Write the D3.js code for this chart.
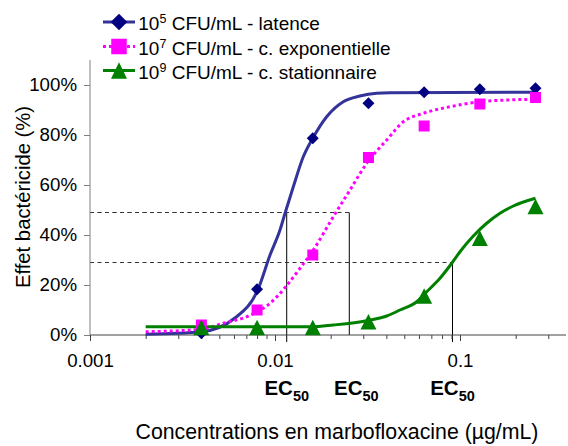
<!DOCTYPE html>
<html>
<head>
<meta charset="utf-8">
<script src="https://cdn.jsdelivr.net/npm/d3@7/dist/d3.min.js"></script>
<style>
  html, body { margin: 0; padding: 0; background: #fff; }
  svg { display: block; font-family: "Liberation Sans", Arial, sans-serif; }
</style>
</head>
<body>
<svg id="chart" width="568" height="446"></svg>
<script>
// ---------- data ----------
const concentrations = [0.004, 0.008, 0.016, 0.032, 0.064, 0.128, 0.256];
const latence        = [0.7, 18.3, 78.7, 92.7, 97.1, 98.3, 98.7];
const exponentielle  = [4, 10, 32, 71, 83.6, 92.4, 95];
const stationnaire   = [3, 3, 3, 5.3, 15.6, 38.7, 51.4];

// fitted curves
const fitLatenceConc  = [0.002, 0.004, 0.0061, 0.0081, 0.0094, 0.01064, 0.01133, 0.01256, 0.01422, 0.016, 0.01902, 0.02339, 0.02878, 0.03545, 0.04187, 0.256];
const fitLatenceVal   = [0.3, 1.3, 6.9, 18.3, 32, 42, 48.7, 59.3, 71.3, 78.7, 87.3, 93.3, 95.6, 96.7, 96.9, 97.1];
const fitExpoConc     = [0.002, 0.004, 0.00525, 0.00703, 0.0094, 0.01366, 0.0161, 0.02066, 0.02543, 0.03132, 0.04016, 0.0494, 0.0634, 0.0883, 0.1282, 0.1788, 0.256];
const fitExpoVal      = [1.3, 2.3, 4.7, 7.3, 12.7, 26.7, 34, 47.3, 58, 68.7, 78, 85.3, 88.7, 91.3, 93.3, 94, 94.3];
const fitStatConc     = [0.002, 0.01585, 0.02066, 0.03132, 0.04016, 0.0474, 0.05834, 0.06607, 0.07795, 0.09025, 0.1, 0.118, 0.1394, 0.1645, 0.1941, 0.256];
const fitStatVal      = [3.3, 3.3, 4, 5.7, 7.6, 10, 13.3, 17.3, 22.7, 28.7, 33.3, 39.6, 44.7, 48.7, 51.6, 54.7];

const ec50Conc  = [0.01157, 0.02521, 0.0911];
const ec50Level = [49, 49, 29];

const yTickValues = [0, 20, 40, 60, 80, 100];
const xMajorTicks = [0.001, 0.01, 0.1];
const xMajorLabels = ["0.001", "0.01", "0.1"];
const xMinorMultipliers = [2, 3, 4, 5, 6, 7, 8, 9];

const legendLabels = [
  {base: "10", sup: "5", rest: " CFU/mL - latence"},
  {base: "10", sup: "7", rest: " CFU/mL - c. exponentielle"},
  {base: "10", sup: "9", rest: " CFU/mL - c. stationnaire"}
];

// ---------- layout ----------
const svg = d3.select("#chart");
const x = d3.scaleLog().domain([0.001, 1]).range([90, 645]);
const y = d3.scaleLinear().domain([0, 110]).range([335, 60]);
const xEnd = 566;

const BLUE_LINE = "#333399", BLUE_MARK = "#000080";
const PINK = "#FF00FF", GREEN = "#008000";
const FONT = 18.7;
const FAMILY = "'Liberation Sans', Arial, sans-serif";

// guide lines (EC50)
const guides = svg.append("g");
ec50Conc.forEach((c, i) => {
  guides.append("line")
    .attr("x1", x(0.001)).attr("x2", x(c))
    .attr("y1", y(ec50Level[i])).attr("y2", y(ec50Level[i]))
    .attr("stroke", "#333").attr("stroke-width", 1).attr("stroke-dasharray", "4,3.5");
  guides.append("line")
    .attr("x1", x(c)).attr("x2", x(c))
    .attr("y1", y(ec50Level[i])).attr("y2", i === 1 ? y(0) : y(0) + 7)
    .attr("stroke", "#000").attr("stroke-width", 1);
});

// axes
const minorTicks = [];
xMajorTicks.forEach(d => xMinorMultipliers.forEach(m => { if (d * m < 0.35) minorTicks.push(d * m); }));

const gx = svg.append("g").attr("transform", `translate(0,${y(0)})`);
gx.append("line").attr("x1", x(0.001)).attr("x2", xEnd).attr("y1", 0).attr("y2", 0)
  .attr("stroke", "#444").attr("stroke-width", 1);
gx.append("g").call(d3.axisBottom(x).tickValues(minorTicks).tickSize(4).tickFormat(""))
  .call(g => g.select(".domain").remove())
  .selectAll("line").attr("stroke", "#444");
gx.append("g").call(d3.axisBottom(x).tickValues(xMajorTicks).tickSize(6).tickPadding(12.7)
    .tickFormat((d, i) => xMajorLabels[i]))
  .call(g => g.select(".domain").remove())
  .call(g => g.selectAll("line").attr("stroke", "#444"))
  .call(g => g.selectAll("text").attr("font-size", FONT).attr("fill", "#000")
    .attr("font-family", FAMILY));

const gy = svg.append("g").attr("transform", `translate(${x(0.001)},0)`);
gy.append("line").attr("x1", 0).attr("x2", 0).attr("y1", y(110)).attr("y2", y(0))
  .attr("stroke", "#808080").attr("stroke-width", 1);
gy.append("g").call(d3.axisLeft(y).tickValues(yTickValues).tickSize(6).tickPadding(7).tickFormat(d => d + "%"))
  .call(g => g.select(".domain").remove())
  .call(g => g.selectAll("line").attr("stroke", "#808080"))
  .call(g => g.selectAll("text").attr("font-size", FONT).attr("fill", "#000")
    .attr("font-family", FAMILY));

// curves
const line = d3.line().x(d => x(d[0])).y(d => y(d[1])).curve(d3.curveMonotoneX);
const zip = (a, b) => a.map((v, i) => [v, b[i]]);

svg.append("path").datum(zip(fitLatenceConc, fitLatenceVal)).attr("d", line)
  .attr("fill", "none").attr("stroke", BLUE_LINE).attr("stroke-width", 3);
svg.append("path").datum(zip(fitExpoConc, fitExpoVal)).attr("d", line)
  .attr("fill", "none").attr("stroke", PINK).attr("stroke-width", 3).attr("stroke-dasharray", "3,3");
svg.append("path").datum(zip(fitStatConc, fitStatVal)).attr("d", line)
  .attr("fill", "none").attr("stroke", GREEN).attr("stroke-width", 3);

// markers
function diamond(g, cx, cy, r) {
  g.append("path").attr("d", `M${cx},${cy - r}L${cx + r},${cy}L${cx},${cy + r}L${cx - r},${cy}Z`)
    .attr("fill", BLUE_MARK);
}
function square(g, cx, cy, s) {
  g.append("rect").attr("x", cx - s / 2).attr("y", cy - s / 2).attr("width", s).attr("height", s)
    .attr("fill", PINK);
}
function triangle(g, cx, cy, w, h) {
  g.append("path").attr("d", `M${cx},${cy - h / 2}L${cx + w / 2},${cy + h / 2}L${cx - w / 2},${cy + h / 2}Z`)
    .attr("fill", GREEN);
}
const marks = svg.append("g");
concentrations.forEach((c, i) => diamond(marks, x(c), y(latence[i]), 6));
concentrations.forEach((c, i) => square(marks, x(c), y(exponentielle[i]), 11));
concentrations.forEach((c, i) => triangle(marks, x(c), y(stationnaire[i]), 16, 15.5));

// EC50 labels
ec50Conc.forEach((c, i) => {
  const t = svg.append("text").attr("x", x(c) + (i === 1 ? 7 : 0)).attr("y", 395)
    .attr("text-anchor", "middle").attr("font-weight", "bold").attr("font-size", 20.5).attr("fill", "#000");
  t.append("tspan").text("EC");
  t.append("tspan").attr("font-size", 14.5).attr("dy", 6).text("50");
});

// axis titles
svg.append("text").attr("x", 337).attr("y", 439).attr("text-anchor", "middle")
  .attr("font-size", 21.3).attr("fill", "#000").text("Concentrations en marbofloxacine (µg/mL)");
svg.append("text").attr("transform", "translate(30,197) rotate(-90)").attr("text-anchor", "middle")
  .attr("font-size", 20.3).attr("fill", "#000").text("Effet bactéricide (%)");

// legend
const legendY = [22, 46.5, 70.5];
const lg = svg.append("g");
legendY.forEach((ly, i) => {
  const ln = lg.append("line").attr("x1", 103).attr("x2", 135).attr("y1", ly).attr("y2", ly)
    .attr("stroke-width", 3);
  if (i === 0) { ln.attr("stroke", BLUE_LINE); diamond(lg, 119, ly, 8.3); }
  if (i === 1) { ln.attr("stroke", PINK).attr("stroke-dasharray", "3,3"); square(lg, 119, ly, 15.5); }
  if (i === 2) { ln.attr("stroke", GREEN); triangle(lg, 119, ly, 16, 16.5); }
  const t = lg.append("text").attr("x", 138.3).attr("y", ly + 8.3).attr("font-size", 19).attr("fill", "#000");
  t.append("tspan").text(legendLabels[i].base);
  t.append("tspan").attr("font-size", 12.5).attr("dy", -7).text(legendLabels[i].sup);
  t.append("tspan").attr("dy", 7).text(legendLabels[i].rest);
});
</script>
</body>
</html>
